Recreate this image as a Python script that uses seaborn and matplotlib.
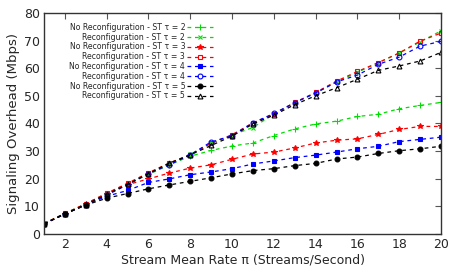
import pandas as pd
import matplotlib
matplotlib.use("Agg")
import matplotlib.pyplot as plt
import seaborn as sns

rate = list(range(1, 21))

noreconf_st2 = [3.7, 7.3, 10.7, 14.5, 18.0, 21.5, 25.0, 28.1, 30.2, 31.8,
                32.9, 35.6, 38.0, 39.8, 40.8, 42.5, 43.3, 45.3, 46.5, 47.6]
reconf_st2 = [3.7, 7.4, 10.8, 14.6, 18.2, 22.0, 25.5, 28.8, 32.8, 35.8,
              38.5, 43.4, 47.5, 51.0, 55.0, 58.5, 62.0, 65.5, 69.5, 73.5]
noreconf_st3 = [3.7, 7.3, 10.8, 14.6, 17.8, 19.9, 22.0, 23.8, 25.0, 27.0,
                28.9, 29.6, 31.1, 32.9, 33.9, 34.4, 36.0, 37.8, 38.9, 38.9]
reconf_st3 = [3.7, 7.4, 10.9, 14.7, 18.3, 22.1, 25.7, 28.6, 32.8, 35.9,
              40.2, 43.3, 47.6, 51.2, 55.3, 58.8, 62.0, 65.5, 69.8, 72.7]
noreconf_st4 = [3.6, 7.2, 10.5, 13.6, 15.7, 18.6, 19.9, 21.4, 22.4, 23.6,
                25.3, 26.4, 27.6, 28.5, 29.6, 30.8, 31.7, 33.4, 34.2, 35.0]
reconf_st4 = [3.6, 7.2, 10.6, 14.0, 17.8, 21.8, 25.0, 28.6, 33.3, 35.5,
              40.2, 43.6, 47.5, 51.0, 55.0, 57.5, 61.4, 64.0, 68.0, 69.7]
noreconf_st5 = [3.6, 7.2, 10.4, 12.9, 14.6, 16.3, 17.7, 19.0, 20.3, 21.7,
                22.9, 23.6, 24.7, 25.5, 27.1, 27.8, 29.1, 30.1, 30.8, 31.7]
reconf_st5 = [3.6, 7.2, 10.6, 14.3, 17.9, 21.8, 25.6, 28.6, 32.0, 35.4,
              39.8, 43.0, 46.8, 50.0, 52.9, 56.0, 59.2, 60.8, 62.6, 65.7]

series = [
    ("No Reconfiguration - ST τ = 2", noreconf_st2, "#00dd00", "+", "full", 4.5),
    ("Reconfiguration - ST τ = 2", reconf_st2, "#00dd00", "x", "full", 3.5),
    ("No Reconfiguration - ST τ = 3", noreconf_st3, "#ff0000", "*", "full", 4),
    ("Reconfiguration - ST τ = 3", reconf_st3, "#ff0000", "s", "none", 3.5),
    ("No Reconfiguration - ST τ = 4", noreconf_st4, "#0000ff", "s", "full", 3.5),
    ("Reconfiguration - ST τ = 4", reconf_st4, "#0000ff", "o", "none", 3.5),
    ("No Reconfiguration - ST τ = 5", noreconf_st5, "#000000", "o", "full", 3.5),
    ("Reconfiguration - ST τ = 5", reconf_st5, "#000000", "^", "none", 3.5),
]

sns.set_style("white")
plt.rcParams["font.family"] = ["DejaVu Sans"]

fig = plt.figure(figsize=(4.57, 2.74), dpi=100)
ax = fig.add_axes([0.0963, 0.1467, 0.8687, 0.806])

for label, vals, color, marker, fill, ms in series:
    df = pd.DataFrame({"rate": rate, "overhead": vals})
    sns.lineplot(data=df, x="rate", y="overhead", ax=ax, color=color,
                 marker=marker, fillstyle=fill, markersize=ms,
                 markeredgecolor=color, markeredgewidth=0.8,
                 linewidth=0.9, label=label, linestyle=(0, (3, 3)))

ax.set_xlim(1, 20)
ax.set_ylim(0, 80)
ax.set_xticks(range(2, 21, 2))
ax.set_yticks(range(0, 81, 10))
ax.tick_params(direction="in", top=True, right=True, length=4,
               width=0.8, color="#555555", labelsize=9, pad=3)
for s in ax.spines.values():
    s.set_color("#333333")
    s.set_linewidth(1.0)

ax.set_xlabel("Stream Mean Rate π (Streams/Second)", fontsize=9, labelpad=2)
ax.set_ylabel("Signaling Overhead (Mbps)", fontsize=9.5, labelpad=3)

ax.legend(loc="upper right", bbox_to_anchor=(0.426, 0.955), frameon=False,
          markerfirst=False, fontsize=5.6, handlelength=3.3,
          handletextpad=0.3, labelspacing=0.1, borderpad=0, borderaxespad=0)

fig.savefig("out.png", dpi=100)
